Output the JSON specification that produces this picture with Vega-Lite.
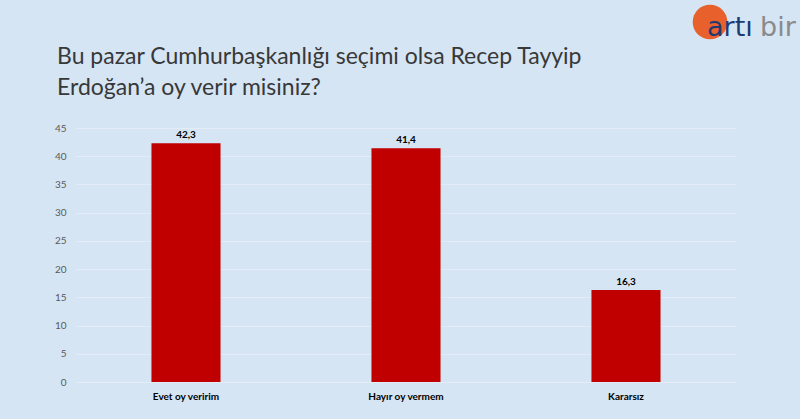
{
  "$schema": "https://vega.github.io/schema/vega-lite/v6.json",
  "width": 660,
  "height": 254,
  "autosize": {"type": "none"},
  "padding": {"left": 76, "top": 128, "right": 64, "bottom": 37},
  "background": "#d5e5f4",
  "config": {
    "view": {"stroke": null},
    "font": "Lato",
    "locale": {"number": {"decimal": ",", "thousands": ".", "grouping": [3], "currency": ["", " TL"]}}
  },
  "title": {
    "text": ["Bu pazar Cumhurbaşkanlığı seçimi olsa Recep Tayyip", "Erdoğan’a oy verir misiniz?"],
    "anchor": "start",
    "frame": "group",
    "dx": -19,
    "dy": 95,
    "offset": 0,
    "font": "Lato",
    "fontSize": 23,
    "fontWeight": "normal",
    "lineHeight": 31,
    "color": "#383838"
  },
  "datasets": {
    "bars": [
      {"cevap": "Evet oy veririm", "oran": 42.3},
      {"cevap": "Hayır oy vermem", "oran": 41.4},
      {"cevap": "Kararsız", "oran": 16.3}
    ],
    "logo": [
      {"cevap": "Kararsız", "oran": 45}
    ]
  },
  "encoding": {
    "x": {
      "field": "cevap", "type": "nominal", "sort": null,
      "scale": {"paddingInner": 0.686, "paddingOuter": 0.343},
      "axis": {
        "title": null, "labelAngle": 0, "domain": false, "ticks": false,
        "labelPadding": 9, "labelFontSize": 10, "labelFontWeight": "bold",
        "labelColor": "#000000", "labelFont": "Lato"
      }
    },
    "y": {
      "field": "oran", "type": "quantitative",
      "scale": {"domain": [0, 45], "nice": false},
      "axis": {
        "title": null, "values": [0, 5, 10, 15, 20, 25, 30, 35, 40, 45],
        "labelOverlap": false,
        "domain": false, "ticks": false, "labelPadding": 10,
        "labelFontSize": 10, "labelColor": "#595959", "labelFont": "Lato",
        "gridColor": "#e4edf7", "gridWidth": 1
      }
    }
  },
  "layer": [
    {
      "data": {"name": "bars"},
      "mark": {"type": "bar", "color": "#c00000"}
    },
    {
      "data": {"name": "bars"},
      "mark": {"type": "text", "baseline": "bottom", "dy": -3, "fontSize": 10, "fontWeight": "bold", "color": "#000000", "font": "Lato"},
      "encoding": {
        "text": {"field": "oran", "type": "quantitative", "format": ".1f"}
      }
    },
    {
      "data": {"name": "logo"},
      "mark": {"type": "point", "filled": true, "shape": "circle", "size": 1200, "color": "#e8602c", "opacity": 1, "clip": false, "yOffset": -106, "xOffset": 84}
    },
    {
      "data": {"name": "logo"},
      "mark": {"type": "text", "text": "artı", "align": "left", "baseline": "alphabetic", "dx": 81, "dy": -92, "fontSize": 27, "color": "#1e3a70", "font": "DejaVu Sans"}
    },
    {
      "data": {"name": "logo"},
      "mark": {"type": "text", "text": "bir", "align": "left", "baseline": "alphabetic", "dx": 134, "dy": -92, "fontSize": 27, "color": "#8a8a8a", "font": "DejaVu Sans"}
    }
  ]
}
